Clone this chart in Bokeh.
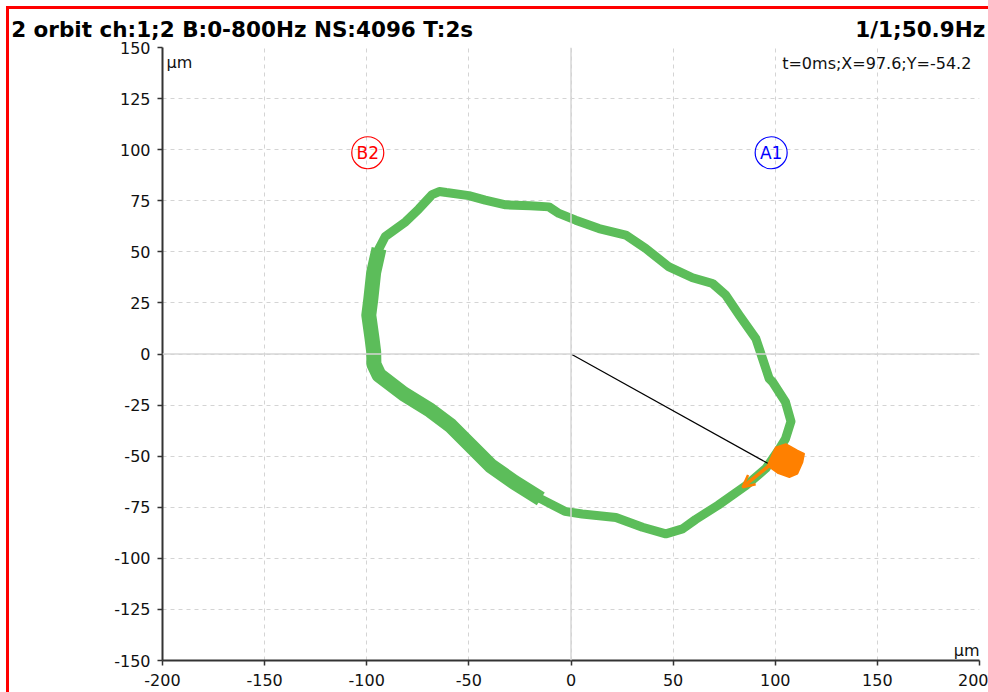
from bokeh.plotting import figure
from bokeh.models import Label, Arrow, OpenHead, Span, FixedTicker, LinearAxis
from bokeh.core.properties import value
from bokeh.embed import file_html
from bokeh.resources import INLINE

# ---- data ----
x_ticks = [-200, -150, -100, -50, 0, 50, 100, 150, 200]
y_ticks = [-150, -125, -100, -75, -50, -25, 0, 25, 50, 75, 100, 125, 150]

orbit_x = [-61, -50, -42, -32, -20, -10.8, -5.9, 2.3, 13.7, 26.8, 36.6, 48, 59.5, 69.3,
           75.8, 82.4, 90.5, 93.8, 97, 98.7, 105, 107.7, 105, 102, 95.4, 85.6, 72, 61,
           54.6, 46.4, 35, 22, 5.5, -3, -14.8, -27.9, -39.4, -49.2, -59, -68.8, -81.9,
           -94, -96.5, -96.6, -97.4, -99, -98, -96.6, -94, -91, -81, -74.5, -68, -64.5, -61]
orbit_y = [79, 77.5, 75.3, 73, 72.5, 72, 68.8, 65.5, 61.4, 58.2, 51.6, 42.6, 37.3, 34.5,
           28.8, 19, 7.5, -2.3, -12, -13.7, -23.5, -33, -41.5, -46.4, -56, -64.4, -74, -81,
           -85.6, -88, -84.8, -80, -78.3, -77, -70.9, -62.7, -54.6, -44.8, -35, -27.6, -19.5,
           -10.3, -5, 1, 7.5, 19, 27, 40, 51.6, 57.4, 64.7, 71, 78, 79.5, 79]

# wider (scattered) part of the orbit band
spread_x = [-94, -96.6, -98, -99, -97.4, -96.6, -96.5, -94, -81.9, -68.8, -59, -49.2, -39.4,
            -27.9, -14.8]
spread_y = [51.6, 40, 27, 19, 7.5, 1, -5, -10.3, -19.5, -27.6, -35, -44.8, -54.6,
            -62.7, -70.9]

# 1x filtered orbit (orange blob)
blob_x = [100.3, 105.2, 110.9, 114.2, 113.4, 110.9, 106.9, 101.1, 96.2, 98.7]
blob_y = [-45.6, -44, -47.2, -48.8, -52.9, -58.6, -60.3, -58.2, -54.6, -48.8]

arrow_start = (97, -54.6)
arrow_end = (84, -65.2)

cursor_x = [0, 97.6]
cursor_y = [0, -54.2]

marker_names = ["B2", "A1"]
marker_x = [-99.5, 98]
marker_y = [98.5, 98.5]
marker_colors = ["#ff0000", "#0000ff"]

title_left = "2 orbit ch:1;2 B:0-800Hz NS:4096 T:2s"
title_right = "1/1;50.9Hz"
cursor_text = "t=0ms;X=97.6;Y=-54.2"
unit = "µm"

# header positions (centres of the two header texts, in x units)
header_pos = [-161, 171]
header_texts = [title_left, title_right]

FONT = "DejaVu Sans"

p = figure(frame_width=817, frame_height=613, x_range=(-200, 200), y_range=(-150, 150),
           output_backend="svg", toolbar_location=None,
           min_border_left=153, min_border_right=9, min_border_top=38, min_border_bottom=32,
           background_fill_color="white", border_fill_color="white")
p.styles = {"margin-left": "6px", "margin-top": "6px",
            "border-left": "3px solid #ff0000", "border-top": "3px solid #ff0000"}
p.outline_line_color = None

xa = p.below[0]
ya = p.left[0]
for ax in (xa, ya):
    ax.axis_line_color = "#333333"
    ax.axis_line_width = 2
    ax.major_tick_line_color = "#333333"
    ax.major_tick_line_width = 1.5
    ax.major_tick_in = 0
    ax.major_tick_out = 5
    ax.minor_tick_line_color = None
    ax.major_label_text_font = FONT
    ax.major_label_text_font_size = "16px"
    ax.major_label_text_color = "#111111"
xa.major_label_standoff = 8
ya.major_label_standoff = 7
xa.ticker = FixedTicker(ticks=x_ticks)
ya.ticker = FixedTicker(ticks=y_ticks)
xa.major_label_overrides = {t: str(t) for t in x_ticks}
ya.major_label_overrides = {t: str(t) for t in y_ticks}

# header line as an invisible axis above the frame
head = LinearAxis(ticker=FixedTicker(ticks=header_pos),
                  major_label_overrides={t: s for t, s in zip(header_pos, header_texts)})
head.axis_line_color = None
head.major_tick_line_color = None
head.minor_tick_line_color = None
head.major_tick_out = 0
head.major_tick_in = 0
head.major_label_standoff = 6
head.major_label_text_font = FONT
head.major_label_text_font_size = "21.5px"
head.major_label_text_font_style = "bold"
head.major_label_text_color = "#000000"
p.add_layout(head, "above")

for g in (p.xgrid[0], p.ygrid[0]):
    g.grid_line_color = "#d4d4d4"
    g.grid_line_dash = "4 4"
    g.grid_line_width = 1
p.xgrid[0].ticker = xa.ticker
p.ygrid[0].ticker = ya.ticker

p.add_layout(Span(location=0, dimension="height", line_color="#d6d6d6", line_width=1.5))
p.add_layout(Span(location=0, dimension="width", line_color="#d6d6d6", line_width=1.5))

# orbit
p.line(orbit_x, orbit_y, line_color="#5cbd5a", line_width=9, line_join="round")
p.line(spread_x, spread_y, line_color="#5cbd5a", line_width=15, line_join="round",
       line_cap="butt")

# cursor line
p.line(cursor_x, cursor_y, line_color="#000000", line_width=1.2)

# orange filtered orbit
p.patch(blob_x, blob_y, fill_color="#ff8000", line_color="#ff8000", line_width=1.5)
p.add_layout(Arrow(end=OpenHead(size=12, line_color="#ff8000", line_width=2.5),
                   x_start=arrow_start[0], y_start=arrow_start[1],
                   x_end=arrow_end[0], y_end=arrow_end[1],
                   line_color="#ff8000", line_width=3.5))

# sensor markers
p.scatter(marker_x, marker_y, size=32, marker="circle", fill_color=None,
          line_color=marker_colors, line_width=1.2)
p.text(marker_x, marker_y, text=marker_names, text_color=marker_colors,
       text_font=value(FONT), text_font_size="17px", text_align="center",
       text_baseline="middle")

# texts inside the frame
p.add_layout(Label(x=103.4, y=142.1, text=cursor_text, text_font=FONT, text_font_size="16px",
                   text_baseline="middle", text_align="left", text_color="#111111"))
p.add_layout(Label(x=-198, y=142.6, text=unit, text_font=FONT, text_font_size="16px",
                   text_baseline="middle", text_align="left", text_color="#111111"))
p.add_layout(Label(x=200, y=-145, text=unit, text_font=FONT, text_font_size="16px",
                   text_baseline="middle", text_align="right", text_color="#111111"))

open("out.html", "w").write(file_html(p, INLINE))
